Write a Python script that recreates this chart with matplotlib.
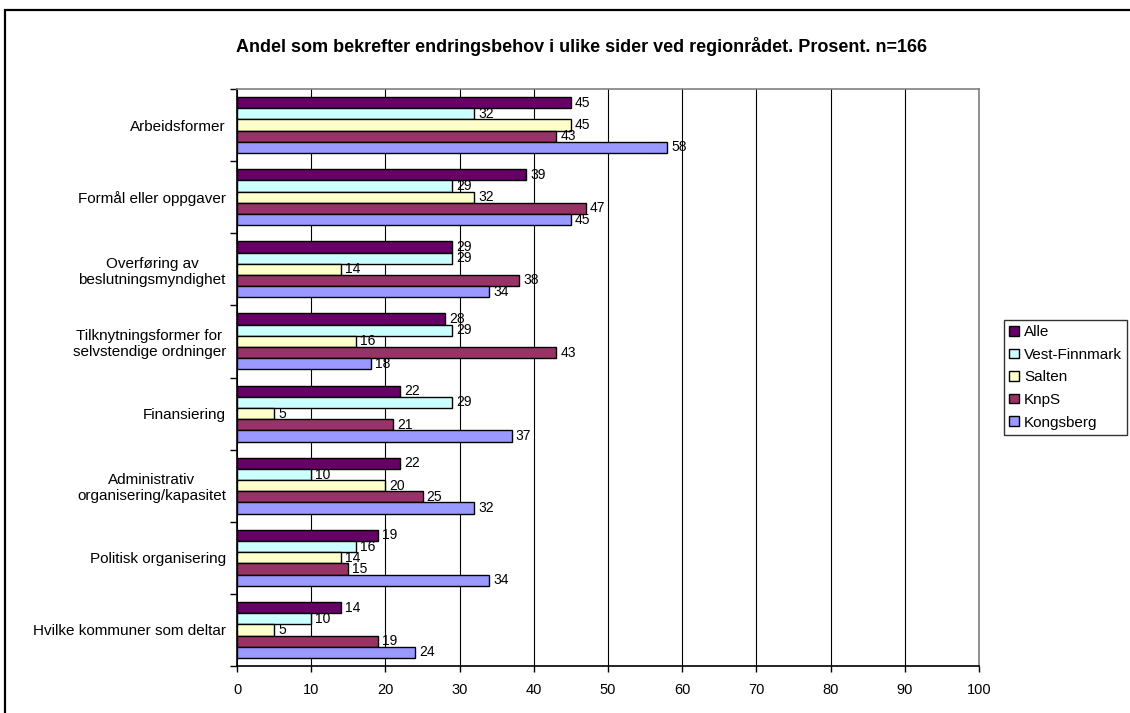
import matplotlib.pyplot as plt
import numpy as np
from matplotlib.patches import Rectangle

plt.rcParams['font.family'] = ['Liberation Sans', 'DejaVu Sans']

categories = ['Arbeidsformer', 'Formål eller oppgaver', 'Overføring av\nbeslutningsmyndighet',
              'Tilknytningsformer for\nselvstendige ordninger', 'Finansiering',
              'Administrativ\norganisering/kapasitet', 'Politisk organisering',
              'Hvilke kommuner som deltar']
series = ['Alle', 'Vest-Finnmark', 'Salten', 'KnpS', 'Kongsberg']
alle = [45, 39, 29, 28, 22, 22, 19, 14]
vest_finnmark = [32, 29, 29, 29, 29, 10, 16, 10]
salten = [45, 32, 14, 16, 5, 20, 14, 5]
knps = [43, 47, 38, 43, 21, 25, 15, 19]
kongsberg = [58, 45, 34, 18, 37, 32, 34, 24]
colors = ['#660066', '#CCFFFF', '#FFFFCC', '#993366', '#9999FF']

fig = plt.figure(figsize=(11.3, 7.13), dpi=100)
ax = fig.add_axes([237 / 1130, 47 / 713, 742 / 1130, 577 / 713])

y = np.arange(len(categories))
h = 0.155
for k, vals in enumerate([alle, vest_finnmark, salten, knps, kongsberg]):
    pos = y + (k - 2) * h
    ax.barh(pos, vals, height=h, color=colors[k], edgecolor='black',
            linewidth=1, label=series[k], zorder=3)
    for p, v in zip(pos, vals):
        ax.text(v + 0.55, p, str(v), va='center', ha='left', fontsize=10, zorder=4)

ax.set_xlim(0, 100)
ax.set_ylim(len(categories) - 0.5, -0.5)
ax.set_xticks(range(0, 101, 10))
ax.set_yticks(y)
ax.set_yticklabels(categories, fontsize=11, multialignment='center')
ax.set_yticks(np.arange(-0.5, len(categories), 1), minor=True)
ax.tick_params(axis='y', which='major', length=0, pad=8)
ax.tick_params(axis='y', which='minor', length=5, width=1, direction='out')
ax.tick_params(axis='x', length=4, width=1, direction='out', labelsize=10.5, pad=8)
ax.grid(axis='x', color='black', linewidth=0.8, zorder=0)

for s in ['top', 'right']:
    ax.spines[s].set_color('#808080')
    ax.spines[s].set_linewidth(1.2)
for s in ['left', 'bottom']:
    ax.spines[s].set_color('black')
    ax.spines[s].set_linewidth(1.2)

fig.text(582 / 1130, 1 - 46 / 713, 'Andel som bekrefter endringsbehov i ulike sider ved regionrådet. Prosent. n=166',
         ha='center', va='center', fontsize=13, fontweight='bold')

leg = fig.legend(loc='upper left', bbox_to_anchor=(1004 / 1130, 1 - 320 / 713),
                 fontsize=11, frameon=True, fancybox=False, edgecolor='black',
                 handlelength=0.6, handleheight=0.6, handletextpad=0.35,
                 borderpad=0.35, labelspacing=0.56, borderaxespad=0)
leg.get_frame().set_linewidth(1)

fig.patches.append(Rectangle((5 / 1130, -0.05), 1.2, 1 - 10 / 713 + 0.05,
                             transform=fig.transFigure, fill=False,
                             edgecolor='black', linewidth=1.6))

fig.savefig('out.png', dpi=100)
